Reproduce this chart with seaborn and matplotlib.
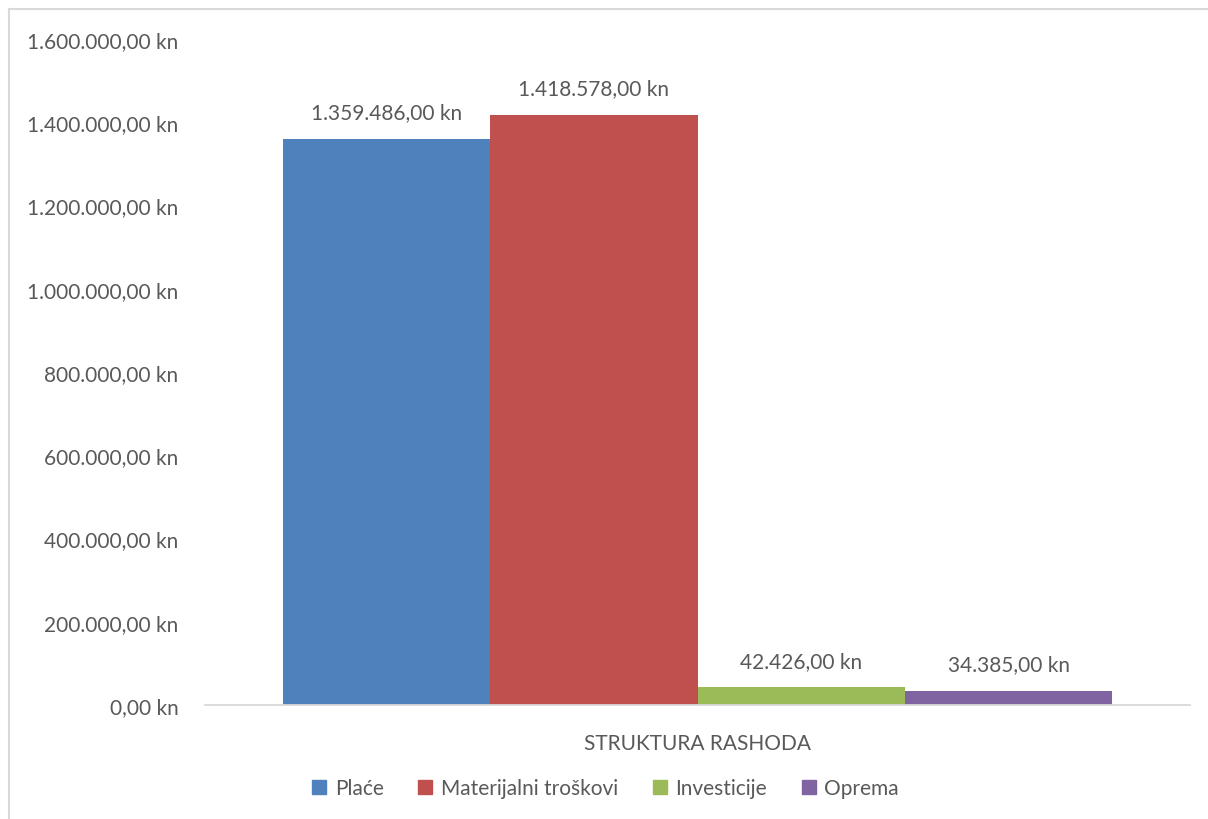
import pandas as pd
import matplotlib.pyplot as plt
import seaborn as sns
from matplotlib.lines import Line2D
from matplotlib.ticker import FuncFormatter

# Data
category = ["STRUKTURA RASHODA"]
series = ["Plaće", "Materijalni troškovi", "Investicije", "Oprema"]
values = [1359486.00, 1418578.00, 42426.00, 34385.00]
colors = ["#4F81BD", "#C0504D", "#9BBB59", "#8064A2"]

sns.set_theme(style="white")
plt.rcParams["font.family"] = ["Lato", "DejaVu Sans"]

TEXT = "#595959"
AXIS = "#D9D9D9"


def kn(v):
    s = f"{v:,.2f}"
    s = s.replace(",", "X").replace(".", ",").replace("X", ".")
    return s + " kn"


df = pd.DataFrame({"category": category * len(series), "series": series, "value": values})

fig = plt.figure(figsize=(12.08, 8.2), dpi=100)
ax = fig.add_axes([205 / 1208, 1 - 706 / 820, 985 / 1208, 666 / 820])

sns.barplot(
    data=df,
    x="category",
    y="value",
    hue="series",
    hue_order=series,
    palette=colors,
    width=0.842,
    saturation=1,
    ax=ax,
    legend=False,
)
for patch in ax.patches:
    patch.set_edgecolor("none")

for cont in ax.containers:
    ax.bar_label(cont, labels=[kn(b.get_height()) for b in cont], padding=12,
                 fontsize=15, color=TEXT)

ax.set_xlim(-0.5, 0.5)
ax.set_ylim(0, 1600000)
ax.set_yticks(range(0, 1600001, 200000))
ax.yaxis.set_major_formatter(FuncFormatter(lambda v, p: kn(v)))
ax.tick_params(axis="y", labelsize=15, labelcolor=TEXT, length=0, pad=19)
ax.tick_params(axis="x", labelsize=15, labelcolor=TEXT, length=0, pad=20)
ax.set_xlabel("")
ax.set_ylabel("")
for side in ["top", "right", "left"]:
    ax.spines[side].set_visible(False)
ax.spines["bottom"].set_color(AXIS)
ax.spines["bottom"].set_linewidth(1.3)

handles = [Line2D([0], [0], marker="s", linestyle="none", markersize=10,
                  markerfacecolor=c, markeredgecolor=c) for c in colors]
fig.legend(handles, series, loc="center", bbox_to_anchor=(0.5, 1 - 789 / 820),
           ncol=4, frameon=False, fontsize=15, labelcolor=TEXT,
           handletextpad=0.25, columnspacing=1.5, handlelength=1.0)

# outer chart border (Excel-style)
fig.add_artist(Line2D([9 / 1208, 9 / 1208], [0, 1 - 10 / 820], color=AXIS, lw=1.5))
fig.add_artist(Line2D([9 / 1208, 1], [1 - 10 / 820, 1 - 10 / 820], color=AXIS, lw=1.5))

plt.savefig("out.png", dpi=100)
